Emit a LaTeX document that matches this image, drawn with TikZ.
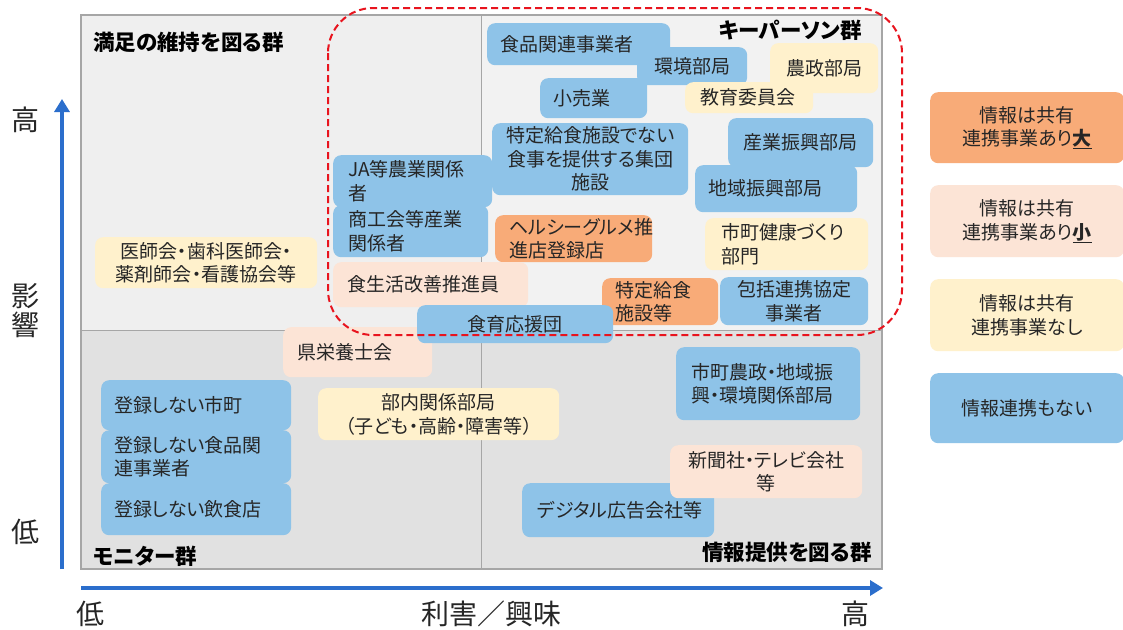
\documentclass[tikz,border=0pt]{standalone}
\usepackage{fontspec}
\setmainfont{Noto Sans CJK JP}[RawFeature=+palt]
\usetikzlibrary{arrows.meta}
\definecolor{cblue}{RGB}{142,195,232}
\definecolor{corange}{RGB}{248,171,120}
\definecolor{cpeach}{RGB}{252,228,214}
\definecolor{ccream}{RGB}{255,241,204}
\definecolor{txt}{RGB}{38,38,38}
\definecolor{qtop}{RGB}{239,239,239}
\definecolor{qtopr}{RGB}{242,242,242}
\definecolor{qbot}{RGB}{225,225,225}
\definecolor{frm}{RGB}{166,166,166}
\definecolor{axblue}{RGB}{43,110,204}
\definecolor{dred}{RGB}{232,20,30}
\begin{document}
\begin{tikzpicture}[x=1pt,y=-1pt,
  bx/.style={anchor=north west, rounded corners=8pt, inner ysep=0pt, font=\fontsize{19}{23.5}\selectfont, text=txt},
  lft/.style 2 args={inner xsep=#1, text width=#2, align=left},
  ctr/.style={inner xsep=4pt, text width=#1, align=center},
  head/.style={font=\fontsize{21.5}{24}\selectfont\bfseries, text=black, inner sep=0pt},
  axl/.style={font=\fontsize{28}{29}\selectfont, text=txt, inner sep=0pt, align=center},
  axarrow/.style={axblue, line width=4pt, -{Triangle[length=13pt,width=15pt]}}
]
\useasboundingbox (0,0) rectangle (1123,629);
\fill[white] (0,0) rectangle (1123,629);
% quadrants
\fill[qtop] (81,15) rectangle (481,330);
\fill[qtopr] (481,15) rectangle (882,330);
\fill[qbot] (81,330) rectangle (882,569);
\draw[frm, line width=1pt] (481,15) -- (481,569);
\draw[frm, line width=1pt] (81,330) -- (882,330);
\draw[frm, line width=1.6pt] (81,15) rectangle (882,569);

% top-right boxes
\node[bx, fill=cblue, lft={13pt}{157pt}, minimum height=42pt] (n1) at (487,23) {食品関連事業者};
\node[bx, fill=cblue, ctr=102pt, minimum height=38pt] (n2) at (637,47) {環境部局};
\node[bx, fill=ccream, ctr=100pt, minimum height=50pt] (n3) at (770,43) {農政部局};
\node[bx, fill=ccream, lft={15pt}{98pt}, minimum height=31pt] (n5) at (685,82) {教育委員会};
\node[bx, fill=cblue, lft={13pt}{81pt}, minimum height=40pt] (n4) at (540,78) {小売業};
\node[bx, fill=cblue, ctr=188pt, minimum height=72pt] (n6) at (492,123) {特定給食施設でない\\食事を提供する集団\\施設};
\node[bx, fill=cblue, ctr=137pt, minimum height=49pt] (n7) at (728,118) {産業振興部局};
\node[bx, fill=cblue, lft={13pt}{136pt}, minimum height=47pt] (n8) at (695,165) {地域振興部局};
\node[bx, fill=corange, lft={14pt}{129pt}, minimum height=47pt] (n9) at (495,215) {ヘルシーグルメ推\\進店登録店};
\node[bx, fill=ccream, lft={16pt}{131pt}, minimum height=52pt] (n10) at (705,218) {市町健康づくり\\部門};
\node[bx, fill=cblue, ctr=140pt, minimum height=48pt] (n12) at (720,277) {包括連携協定\\事業者};
% top-left / center boxes
\node[bx, fill=cblue, lft={15pt}{129pt}, minimum height=52pt] (n13) at (333,155) {JA等農業関係\\者};
\node[bx, fill=cblue, lft={15pt}{125pt}, minimum height=52pt] (n14) at (333,205) {商工会等産業\\関係者};
\node[bx, fill=cpeach, lft={14pt}{167pt}, minimum height=45pt] (n15) at (333,262) {食生活改善推進員};
\node[bx, fill=cpeach, lft={14pt}{121pt}, minimum height=50pt] (n18) at (283,327) {県栄養士会};
\node[bx, fill=corange, lft={13pt}{90pt}, minimum height=47pt] (n11) at (602,278) {特定給食\\施設等};
\node[bx, fill=cblue, ctr=188pt, minimum height=38pt] (n16) at (417,305) {食育応援団};
\node[bx, fill=ccream, ctr=214pt, minimum height=51pt] (n17) at (95,237) {医師会・歯科医師会・\\薬剤師会・看護協会等};
% bottom boxes
\node[bx, fill=cblue, lft={13pt}{164pt}, minimum height=50pt] (n19) at (101,380) {登録しない市町};
\node[bx, fill=cblue, lft={13pt}{164pt}, minimum height=53pt] (n20) at (101,430) {登録しない食品関\\連事業者};
\node[bx, fill=cblue, lft={13pt}{164pt}, minimum height=52pt] (n21) at (101,483) {登録しない飲食店};
\node[bx, fill=ccream, ctr=233pt, minimum height=52pt] (n22) at (318,388) {部内関係部局\\（子ども・高齢・障害等）};
\node[bx, fill=cblue, lft={15pt}{154pt}, minimum height=73pt] (n23) at (676,347) {市町農政・地域振\\興・環境関係部局};
\node[bx, fill=cblue, lft={15pt}{162pt}, minimum height=54pt] (n24) at (522,483) {デジタル広告会社等};
\node[bx, fill=cpeach, ctr=184pt, minimum height=53pt] (n25) at (670,445) {新聞社・テレビ会社\\等};
% legend
\node[bx, fill=corange, ctr=186pt, minimum height=71pt] (g1) at (930,92) {情報は共有\\連携事業あり\textbf{\underline{大}}};
\node[bx, fill=cpeach, ctr=186pt, minimum height=72pt] (g2) at (930,185) {情報は共有\\連携事業あり\textbf{\underline{小}}};
\node[bx, fill=ccream, ctr=186pt, minimum height=72pt] (g3) at (930,279) {情報は共有\\連携事業なし};
\node[bx, fill=cblue, ctr=186pt, minimum height=70pt] (g4) at (930,373) {情報連携もない};

% key person dashed region
\draw[dred, line width=2pt, dash pattern=on 7pt off 4pt, rounded corners=45pt] (328,8) rectangle (902,335);

% headings
\node[head, anchor=west] (h1) at (93,42) {満足の維持を図る群};
\node[head, anchor=east] (h2) at (862,30) {キーパーソン群};
\node[head, anchor=west] (h3) at (93,556) {モニター群};
\node[head, anchor=east] (h4) at (872,552) {情報提供を図る群};

% axes
\coordinate (vy0) at (62,569);
\coordinate (vy1) at (62,99);
\coordinate (hx0) at (81,588);
\coordinate (hx1) at (883,588);
\draw[axarrow] (vy0) -- (vy1);
\draw[axarrow] (hx0) -- (hx1);
\node[axl] (yhi) at (25,120) {高};
\node[axl] (ymid) at (25,311) {影\\響};
\node[axl] (ylo) at (25,532) {低};
\node[axl] (xlo) at (90,614) {低};
\node[axl] (xmid) at (491,614) {利害／興味};
\node[axl] (xhi) at (855,614) {高};
\end{tikzpicture}
\end{document}
